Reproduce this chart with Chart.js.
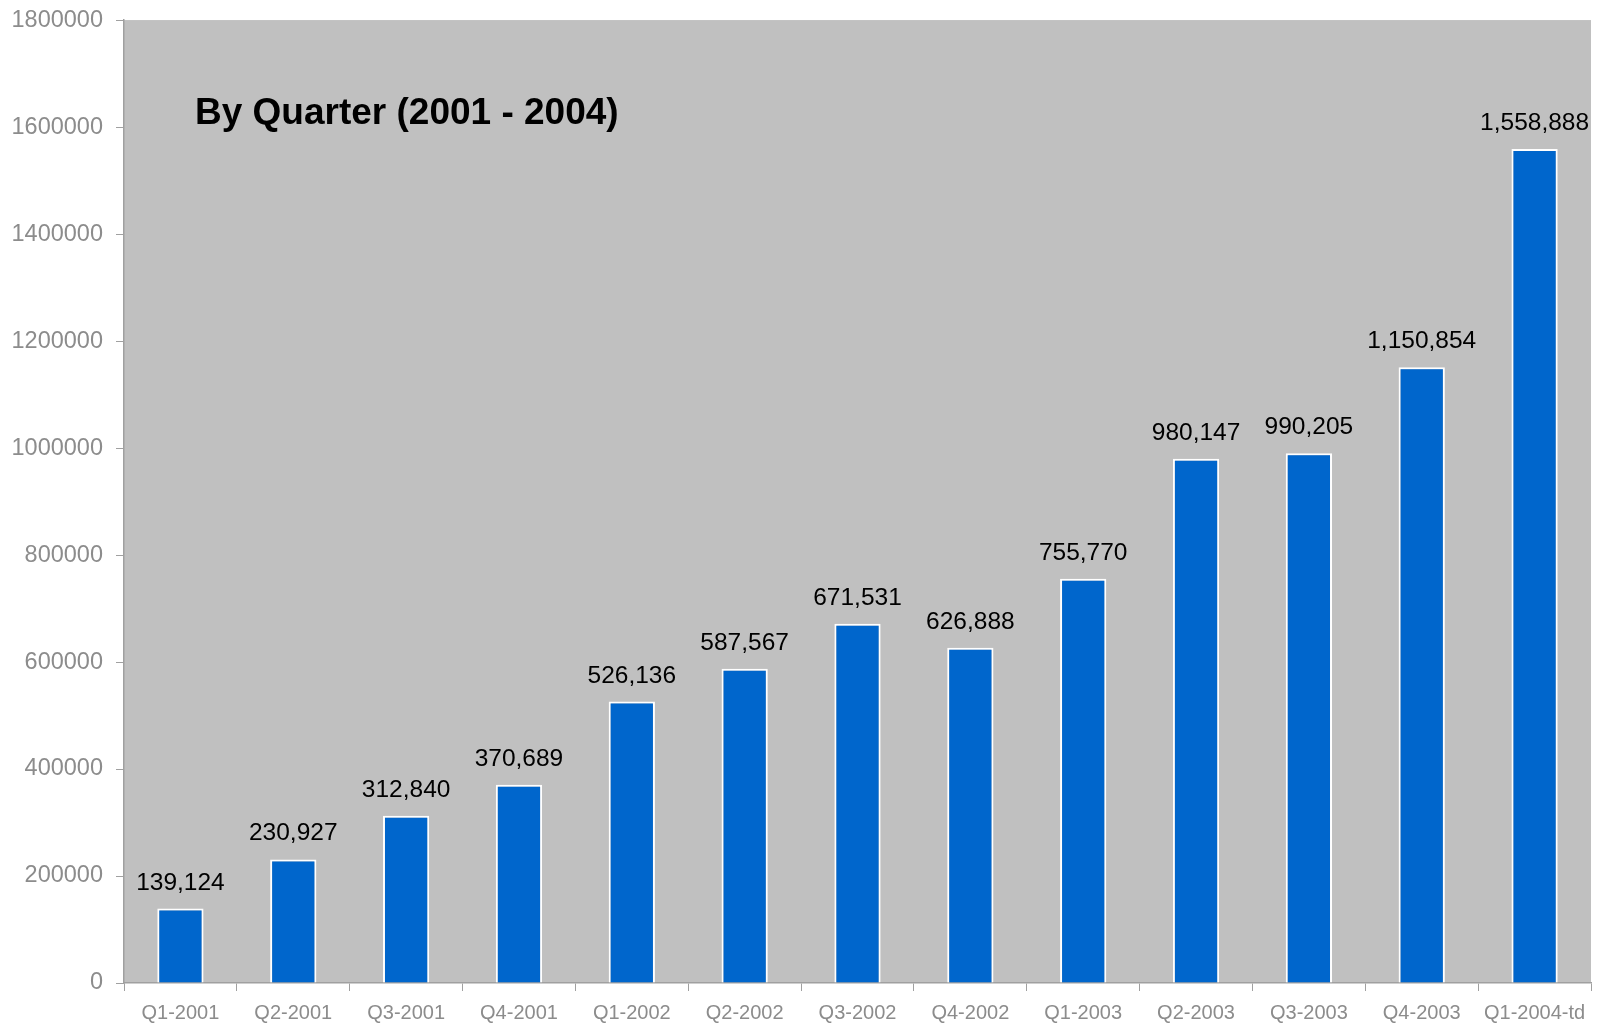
<!DOCTYPE html>
<html>
<head>
<meta charset="utf-8">
<script src="https://cdn.jsdelivr.net/npm/chart.js@4"></script>
<style>
  html, body { margin: 0; padding: 0; background: #fff; }
  #wrap { width: 1610px; height: 1025px; }
</style>
</head>
<body>
<div id="wrap"><canvas id="quarterChart"></canvas></div>
<script>
const quarters = ['Q1-2001', 'Q2-2001', 'Q3-2001', 'Q4-2001', 'Q1-2002', 'Q2-2002', 'Q3-2002',
    'Q4-2002', 'Q1-2003', 'Q2-2003', 'Q3-2003', 'Q4-2003', 'Q1-2004-td'];
const totals = [139124, 230927, 312840, 370689, 526136, 587567, 671531,
    626888, 755770, 980147, 990205, 1150854, 1558888];
const chartTitle = 'By Quarter (2001 - 2004)';

// grey plot area behind the bars
const plotBackground = {
    id: 'plotBackground',
    beforeDraw(chart) {
        const { ctx, chartArea: a } = chart;
        ctx.save();
        ctx.fillStyle = '#c0c0c0';
        ctx.fillRect(a.left, a.top, a.right - a.left, a.bottom - a.top);
        ctx.restore();
    }
};

// value above each bar + the title inside the plot
const barLabels = {
    id: 'barLabels',
    afterDatasetsDraw(chart) {
        const ctx = chart.ctx;
        const meta = chart.getDatasetMeta(0);
        ctx.save();
        ctx.fillStyle = '#000';
        ctx.font = '24.5px "Liberation Sans", Arial, sans-serif';
        ctx.textAlign = 'center';
        ctx.textBaseline = 'alphabetic';
        meta.data.forEach((bar, i) => {
            ctx.fillText(totals[i].toLocaleString('en-US'), bar.x, bar.y - 19);
        });
        ctx.font = 'bold 37px "Liberation Sans", Arial, sans-serif';
        ctx.textAlign = 'left';
        ctx.textBaseline = 'middle';
        ctx.fillText(chartTitle, 195, 114);
        ctx.restore();
    }
};

const ctx = document.getElementById('quarterChart').getContext('2d');
new Chart(ctx, {
    type: 'bar',
    data: {
        labels: quarters,
        datasets: [{
            data: totals,
            backgroundColor: '#0066cc',
            borderColor: '#ffffff',
            borderWidth: 2,
            categoryPercentage: 1,
            barPercentage: 0.41
        }]
    },
    options: {
        responsive: true,
        maintainAspectRatio: false,
        animation: false,
        layout: { padding: { top: 8, right: 19, left: 0, bottom: 0 } },
        plugins: {
            legend: { display: false },
            tooltip: { enabled: false }
        },
        scales: {
            x: {
                offset: true,
                grid: {
                    offset: true,
                    drawOnChartArea: false,
                    color: '#a0a0a0',
                    tickLength: 8
                },
                border: { color: '#a0a0a0', width: 1.5 },
                ticks: {
                    color: '#8c8c8c',
                    font: { family: '"Liberation Sans", Arial, sans-serif', size: 20 },
                    padding: 10,
                    maxRotation: 0,
                    autoSkip: false
                },
                afterFit(scale) { scale.height = 42; }
            },
            y: {
                min: 0,
                max: 1800000,
                grid: {
                    drawOnChartArea: false,
                    color: '#a0a0a0',
                    tickLength: 8
                },
                border: { color: '#a0a0a0', width: 1.5 },
                ticks: {
                    stepSize: 200000,
                    color: '#8c8c8c',
                    font: { family: '"Liberation Sans", Arial, sans-serif', size: 23.5, lineHeight: 0.6 },
                    padding: 13,
                    callback: v => String(v)
                },
                afterFit(scale) { scale.width = 124; }
            }
        }
    },
    plugins: [plotBackground, barLabels]
});
</script>
</body>
</html>
